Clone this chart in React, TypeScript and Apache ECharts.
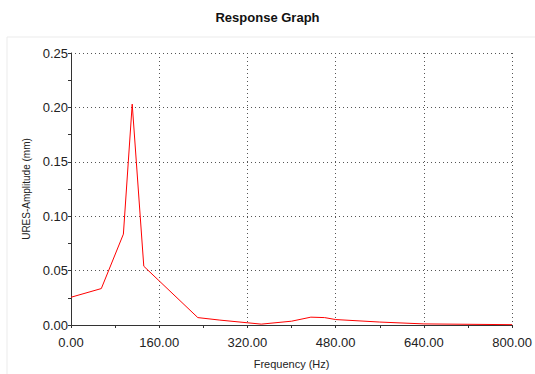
import React, { useEffect, useRef } from "react";
import * as echarts from "echarts";

// Frequency response sampled at the solver's output points
const frequencies = [0, 55, 95, 111, 132, 230, 270, 345, 400, 435, 460, 480, 560, 640, 800];
const amplitudes = [0.0255, 0.0335, 0.0835, 0.203, 0.054, 0.0068, 0.0045, 0.0008, 0.0035, 0.0072, 0.0068, 0.005, 0.0027, 0.001, 0.0003];

const titleText = "Response Graph";
const xAxisName = "Frequency (Hz)";
const yAxisName = "URES-Amplitude (mm)";

export default function App() {
  const ref = useRef<HTMLDivElement>(null);

  useEffect(() => {
    if (!ref.current) return;
    const chart = echarts.init(ref.current, undefined, { renderer: "svg" });
    const font = "Liberation Sans, Arial, sans-serif";
    chart.setOption({
      animation: false,
      backgroundColor: "#ffffff",
      title: {
        text: titleText,
        left: "center",
        top: 6,
        textStyle: { fontFamily: font, fontSize: 13, fontWeight: "bold", color: "#111" },
      },
      graphic: [
        {
          type: "rect",
          shape: { x: 7, y: 37, width: 600, height: 400 },
          style: { fill: "none", stroke: "#ebebeb", lineWidth: 1 },
          silent: true,
          z: -1,
        },
      ],
      grid: { left: 71, right: 21, top: 53, bottom: 45 },
      xAxis: {
        type: "value",
        min: 0,
        max: 800,
        interval: 160,
        name: xAxisName,
        nameLocation: "middle",
        nameGap: 33,
        nameTextStyle: { fontFamily: font, fontSize: 11, color: "#222" },
        axisLine: { show: true, onZero: false, lineStyle: { color: "#333", width: 1 } },
        axisTick: { show: true, length: 3, lineStyle: { color: "#333" } },
        minorTick: { show: true, splitNumber: 2, length: 3, lineStyle: { color: "#333" } },
        axisLabel: {
          fontFamily: font,
          fontSize: 13,
          color: "#222",
          margin: 11,
          formatter: (v: number) => v.toFixed(2),
        },
        splitLine: { show: true, lineStyle: { color: "#555", type: [1, 3], width: 1 } },
      },
      yAxis: {
        type: "value",
        min: 0,
        max: 0.25,
        interval: 0.05,
        name: yAxisName,
        nameLocation: "middle",
        nameGap: 34,
        nameTextStyle: { fontFamily: font, fontSize: 10, color: "#222" },
        axisLine: { show: true, lineStyle: { color: "#333", width: 1 } },
        axisTick: { show: true, length: 3, lineStyle: { color: "#333" } },
        minorTick: { show: true, splitNumber: 2, length: 3, lineStyle: { color: "#333" } },
        axisLabel: {
          fontFamily: font,
          fontSize: 13,
          color: "#222",
          margin: 3,
          formatter: (v: number) => v.toFixed(2),
        },
        splitLine: { show: true, lineStyle: { color: "#555", type: [1, 3], width: 1 } },
      },
      series: [
        {
          type: "line",
          data: frequencies.map((f, i) => [f, amplitudes[i]]),
          showSymbol: false,
          lineStyle: { color: "#ff0000", width: 1 },
          itemStyle: { color: "#ff0000" },
          z: 3,
        },
      ],
    });
    return () => chart.dispose();
  }, []);

  return (
    <div
      ref={ref}
      style={{ position: "fixed", left: 0, top: 0, width: 535, height: 374 }}
    />
  );
}
